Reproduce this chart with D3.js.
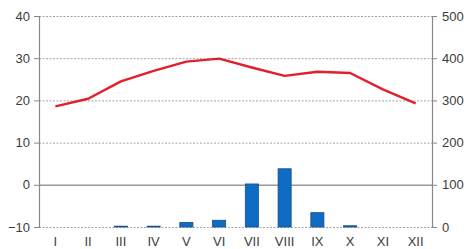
<!DOCTYPE html>
<html>
<head>
<meta charset="utf-8">
<script src="https://cdn.jsdelivr.net/npm/d3@7"></script>
<style>
  body { margin: 0; background: #fff; }
  svg text { font-family: "Liberation Sans", Arial, sans-serif; font-size: 13px; fill: #3c3c3c; }
</style>
</head>
<body>
<svg id="chart" width="464" height="249"></svg>
<script>
// monthly climate data
const months = ["I", "II", "III", "IV", "V", "VI", "VII", "VIII", "IX", "X", "XI", "XII"];
const temperature = [18.6, 20.4, 24.5, 27.0, 29.2, 29.9, 27.8, 25.8, 26.8, 26.5, 22.6, 19.3];
const precipitation = [0, 0, 2, 2, 11, 16, 102, 138, 34, 3, 0, 0];
const tempTicks = [-10, 0, 10, 20, 30, 40];
const precTicks = [0, 100, 200, 300, 400, 500];

const margin = {top: 16, right: 32, bottom: 22, left: 39};
const svg = d3.select("svg#chart");
const width = +svg.attr("width") - margin.left - margin.right;
const height = +svg.attr("height") - margin.top - margin.bottom;

const x = d3.scaleBand().domain(months).range([0, width]).paddingInner(0.6).paddingOuter(0.3);
const xc = d3.scalePoint().domain(months).range([0, width]).padding(0.5);
const yT = d3.scaleLinear().domain([-10, 40]).range([height, 0]);
const yP = d3.scaleLinear().domain([0, 500]).range([height, 0]);

const g = svg.append("g").attr("transform", "translate(" + margin.left + "," + margin.top + ")");

// gridlines
g.append("g").selectAll("line").data(tempTicks)
  .enter().append("line")
    .attr("x1", 0).attr("x2", width)
    .attr("y1", function(d) { return yT(d) + 0.5; })
    .attr("y2", function(d) { return yT(d) + 0.5; })
    .attr("stroke", function(d) { return d === 0 ? "#999" : "#9fa3aa"; })
    .attr("stroke-width", function(d) { return d === 0 ? 1.5 : 1; })
    .attr("stroke-dasharray", function(d) { return d === 0 ? null : "2,1.5"; });

// bars
g.append("g").selectAll("rect").data(precipitation)
  .enter().append("rect")
    .attr("x", function(d, i) { return x(months[i]); })
    .attr("width", x.bandwidth())
    .attr("y", function(d) { return yP(d); })
    .attr("height", function(d) { return height - yP(d); })
    .attr("fill", "#0f6cc4")
    .attr("stroke", function(d) { return d > 0 ? "#1a4f86" : "none"; })
    .attr("stroke-width", 0.8);

// temperature line
const line = d3.line()
  .x(function(d, i) { return xc(months[i]); })
  .y(function(d) { return yT(d); });

g.append("path").datum(temperature)
  .attr("d", line)
  .attr("fill", "none")
  .attr("stroke", "#e1202c")
  .attr("stroke-width", 2.4)
  .attr("stroke-linejoin", "round");

// axes
const left = g.append("g")
  .call(d3.axisLeft(yT).tickValues(tempTicks).tickSize(5).tickPadding(4));
const right = g.append("g").attr("transform", "translate(" + width + ",0)")
  .call(d3.axisRight(yP).tickValues(precTicks).tickSize(5).tickPadding(5));

[left, right].forEach(function(a) {
  a.select(".domain").attr("stroke", "#888").attr("stroke-width", 1.2);
  a.selectAll(".tick line").attr("stroke", "#888");
  a.selectAll("text").attr("font-family", null).attr("font-size", null);
});

g.append("g").selectAll("text").data(months)
  .enter().append("text")
    .attr("x", function(d) { return xc(d); })
    .attr("y", height + 19)
    .attr("text-anchor", "middle")
    .text(function(d) { return d; });
</script>
</body>
</html>
